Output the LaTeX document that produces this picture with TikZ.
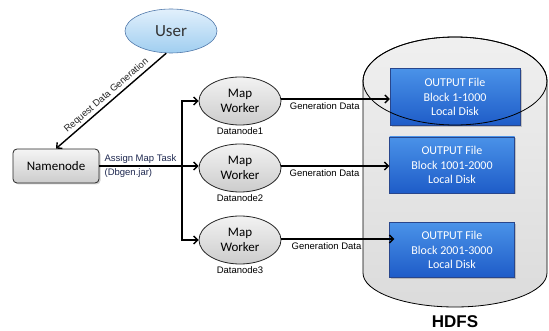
\documentclass[tikz,border=0pt]{standalone}
\usepackage{fontspec}
\setmainfont{Liberation Sans}
\newfontfamily\calfont{Carlito}
\usetikzlibrary{arrows.meta,shapes.geometric,shadows}
\definecolor{blueTop}{RGB}{74,146,232}
\definecolor{blueBot}{RGB}{30,92,200}
\definecolor{blueEdge}{RGB}{40,70,140}
\definecolor{userTop}{RGB}{226,240,252}
\definecolor{userBot}{RGB}{160,206,240}
\definecolor{userEdge}{RGB}{80,120,170}
\definecolor{navy}{RGB}{30,40,80}
\begin{document}
\begin{tikzpicture}[x=1pt,y=-1pt,
  arr/.style={line width=1.4pt,-{Straight Barb[length=4pt,width=8pt,line width=1.4pt]}},
  userell/.style={ellipse,draw=userEdge,line width=0.6pt,top color=userTop,bottom color=userBot,
     minimum width=92pt,minimum height=44pt,font=\calfont\fontsize{17}{19}\selectfont,text=black!80},
  worker/.style={ellipse,draw=black!85,line width=0.8pt,top color=gray!10,bottom color=gray!40,
     minimum width=82pt,minimum height=48pt,align=center,inner sep=0pt,
     font=\calfont\fontsize{13}{15.5}\selectfont},
  namebox/.style={rectangle,rounded corners=4pt,draw=black!85,line width=0.8pt,top color=gray!8,bottom color=gray!40,
     minimum width=86pt,minimum height=34pt,font=\calfont\fontsize{13}{15}\selectfont,
     drop shadow={opacity=0.35,shadow xshift=1.5pt,shadow yshift=-1.5pt}},
  blockbox/.style={rectangle,draw=blueEdge,line width=0.5pt,top color=blueTop,bottom color=blueBot,
     align=center,text=white,font=\calfont\fontsize{12}{14.5}\selectfont,
     drop shadow={opacity=0.4,shadow xshift=1.5pt,shadow yshift=-1.5pt}},
  small/.style={font=\fontsize{9.5}{11}\selectfont,inner sep=1pt},
  lbl/.style={font=\fontsize{9.5}{11}\selectfont,inner sep=1pt,text=navy}]
\useasboundingbox (0,0) rectangle (549,331);
% HDFS cylinder
\shade[top color=gray!12,bottom color=gray!28,draw=black,line width=0.8pt]
  (363pt,-81pt) -- (363pt,-273pt) arc[start angle=180,end angle=360,x radius=92pt,y radius=34pt]
  -- (547pt,-81pt) arc[start angle=0,end angle=180,x radius=92pt,y radius=44pt] -- cycle;
\node[font=\bfseries\fontsize{17}{19}\selectfont] (hdfs) at (455,322) {HDFS};
% blocks
\node[blockbox,minimum width=130pt,minimum height=57pt] (b1) at (455,97) {OUTPUT File\\Block 1-1000\\Local Disk};
\node[blockbox,minimum width=125pt,minimum height=56pt] (b2) at (452,165) {OUTPUT File\\Block 1001-2000\\Local Disk};
\node[blockbox,minimum width=125pt,minimum height=55pt] (b3) at (452,250) {OUTPUT File\\Block 2001-3000\\Local Disk};
\draw[line width=0.8pt] (455pt,-81pt) ellipse[x radius=92pt,y radius=44pt];
% nodes
\node[userell] (user) at (171,31) {User};
\node[namebox] (name) at (56,166) {Namenode};
\node[worker] (w1) at (240,101) {Map\\Worker};
\node[worker] (w2) at (240,168) {Map\\Worker};
\node[worker] (w3) at (240,240) {Map\\Worker};
\node[small,anchor=north] (d1) at ([yshift=-1pt]w1.south) {Datanode1};
\node[small,anchor=north] (d2) at ([yshift=-1pt]w2.south) {Datanode2};
\node[small,anchor=north] (d3) at ([yshift=-1pt]w3.south) {Datanode3};
% connectors
\draw[arr] (user.258) -- node[midway,sloped,above=1pt,lbl,text=black!85] {Request Data Generation} (name.north);
\coordinate (br) at (182,166);
\draw[arr] (name.east |- br) -- (br -| w2.west);
\draw[arr] (br) |- (w1);
\draw[arr] (br) |- (w3);
\node[lbl,anchor=south west] (t1) at ([xshift=4pt,yshift=1pt]name.east |- br) {Assign Map Task};
\node[lbl,anchor=north west] (t2) at ([xshift=4pt,yshift=-1pt]name.east |- br) {(Dbgen.jar)};
\draw[arr] ([yshift=2pt]w1.east) -- ([yshift=2pt]w1.east -| b1.west) node[pos=0.4,below=2pt,small] {Generation Data};
\draw[arr] ([yshift=2pt]w2.east) -- ([yshift=2pt]w2.east -| b2.west) node[pos=0.4,below=2pt,small] {Generation Data};
\draw[arr] ([yshift=1pt]w3.east) -- ([yshift=1pt,xshift=5pt]w3.east -| b3.west) node[pos=0.4,below=2pt,small] {Generation Data};
\end{tikzpicture}
\end{document}
